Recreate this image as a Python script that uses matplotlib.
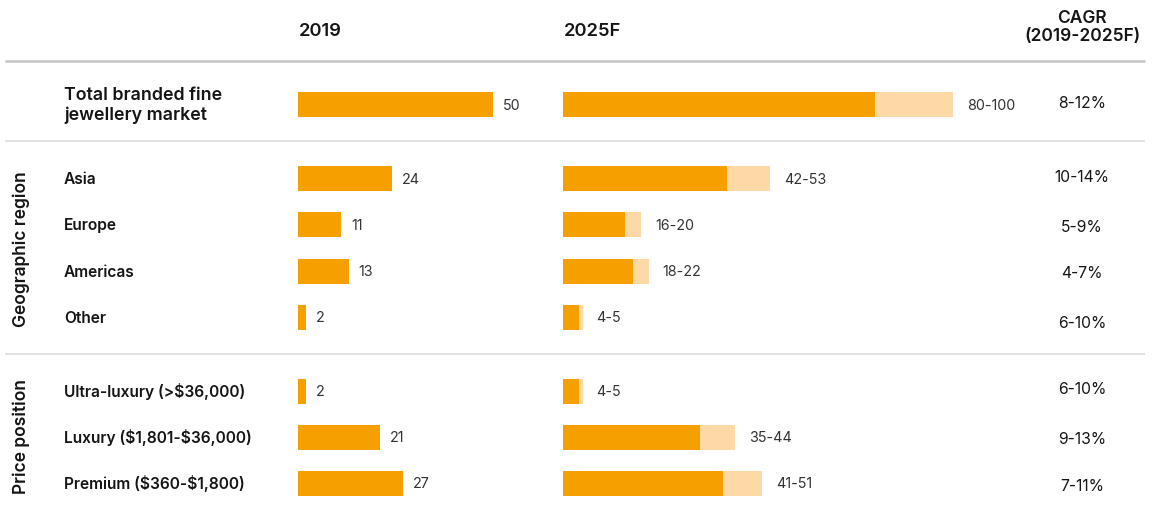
import matplotlib
matplotlib.use("agg")
import matplotlib.pyplot as plt

plt.rcParams['font.family'] = ['Inter', 'DejaVu Sans']

# data (USD bn)
labels = ["Total branded fine\njewellery market", "Asia", "Europe", "Americas", "Other",
          "Ultra-luxury (>$36,000)", "Luxury ($1,801-$36,000)", "Premium ($360-$1,800)"]
v2019 = [50, 24, 11, 13, 2, 2, 21, 27]
low2025 = [80, 42, 16, 18, 4, 4, 35, 41]
high2025 = [100, 53, 20, 22, 5, 5, 44, 51]
cagr = ["8-12%", "10-14%", "5-9%", "4-7%", "6-10%", "6-10%", "9-13%", "7-11%"]
groups = ["Geographic region", "Price position"]

# layout (pixels, figure is 1156x516)
W, H = 1156, 516
row_y = [104.5, 178.5, 224.5, 271.5, 317.5, 391.5, 437.5, 483.5]
cagr_y = [102, 176, 226, 272, 322, 388, 438, 485]
bar_h = 25
px_per_unit = 3.9

dark = '#F5A000'
light = '#FDD9A8'
txt = '#151515'
val_col = '#333333'

fig = plt.figure(figsize=(W / 100, H / 100), dpi=100)

bg = fig.add_axes([0, 0, 1, 1])
bg.set_xlim(0, W)
bg.set_ylim(H, 0)
bg.axis('off')

# column axes, value units on x
ax19 = fig.add_axes([298 / W, 0, 60 * px_per_unit / W, 1])
ax19.set_xlim(0, 60)
ax25 = fig.add_axes([563 / W, 0, 110 * px_per_unit / W, 1])
ax25.set_xlim(0, 110)
for a in (ax19, ax25):
    a.set_ylim(H, 0)
    a.axis('off')

ax19.barh(row_y, v2019, height=bar_h, color=dark, linewidth=0)
ax25.barh(row_y, high2025, height=bar_h, color=light, linewidth=0)
ax25.barh(row_y, low2025, height=bar_h, color=dark, linewidth=0)

for y, v in zip(row_y, v2019):
    ax19.annotate(str(v), (v, y), xytext=(10, -5), textcoords='offset pixels',
                  va='baseline', ha='left', fontsize=10.3, color=val_col)
for y, lo, hi in zip(row_y, low2025, high2025):
    ax25.annotate(f"{lo}-{hi}", (hi, y), xytext=(14, -5), textcoords='offset pixels',
                  va='baseline', ha='left', fontsize=10.3, color=val_col)

# row labels
bg.text(64, row_y[0] + 1, labels[0], va='center', ha='left', fontsize=12.8,
        fontweight='semibold', color=txt, linespacing=1.12)
for y, lab in zip(row_y[1:], labels[1:]):
    bg.text(64, y + 5.5, lab, va='baseline', ha='left', fontsize=11.2,
            fontweight='semibold', color=txt, parse_math=False)

for y, c in zip(cagr_y, cagr):
    bg.text(1082, y + 6, c, va='baseline', ha='center', fontsize=11.3, color=txt)

# headers
bg.text(299, 36.5, "2019", fontsize=13.2, fontweight='semibold', color=txt)
bg.text(564, 36.5, "2025F", fontsize=13.2, fontweight='semibold', color=txt)
bg.text(1082, 23, "CAGR", ha='center', fontsize=12.5, fontweight='semibold', color=txt)
bg.text(1082, 41, "(2019-2025F)", ha='center', fontsize=12.5, fontweight='semibold', color=txt)

# group labels
bg.text(21, 249, groups[0], rotation=90, va='center', ha='center', fontsize=12.5,
        fontweight='semibold', color=txt)
bg.text(21, 437, groups[1], rotation=90, va='center', ha='center', fontsize=12.5,
        fontweight='semibold', color=txt)

# separators
bg.plot([5, 1145], [61, 61], color='#c6c6c6', lw=1.9, solid_capstyle='butt')
bg.plot([5, 1145], [141, 141], color='#dddddd', lw=1.2, solid_capstyle='butt')
bg.plot([5, 1145], [354, 354], color='#dddddd', lw=1.2, solid_capstyle='butt')

fig.savefig('out.png', dpi=100)
